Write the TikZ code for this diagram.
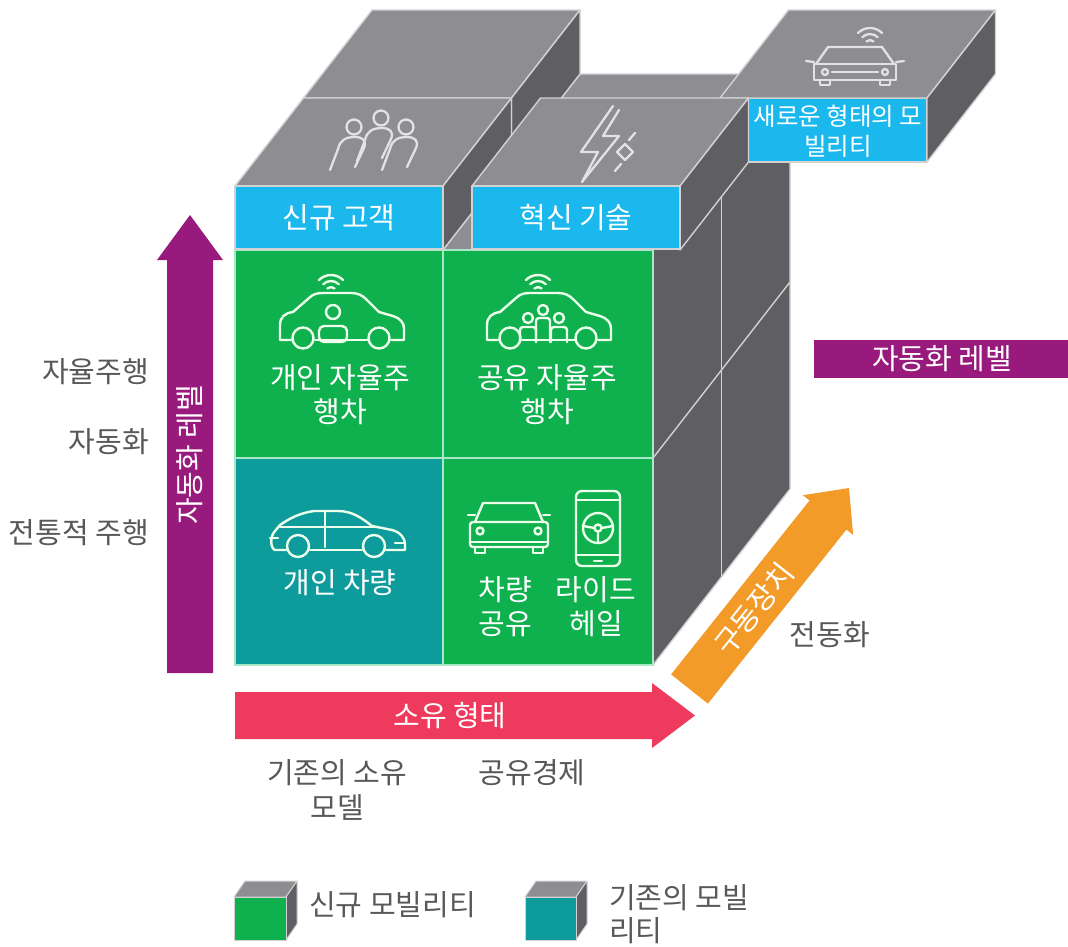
\documentclass[tikz,border=0pt]{standalone}
\usepackage{fontspec}
\setmainfont{Noto Sans CJK KR}
\usetikzlibrary{calc}
\definecolor{topg}{HTML}{8E8E92}
\definecolor{sideg}{HTML}{5F5F63}
\definecolor{edgeg}{HTML}{D2D2D4}
\definecolor{cblue}{HTML}{1BB8EE}
\definecolor{cgreen}{HTML}{0FB04E}
\definecolor{cteal}{HTML}{0E9B9C}
\definecolor{mint}{HTML}{A9E8C6}
\definecolor{cpurple}{HTML}{981A7D}
\definecolor{cred}{HTML}{EE3A5C}
\definecolor{corange}{HTML}{F39B28}
\definecolor{txtg}{HTML}{58585A}
\definecolor{icong}{HTML}{E2E2E4}
\tikzset{
  face/.style={line width=1.4pt, draw=edgeg, line join=round},
  topface/.style={face, fill=topg},
  sideface/.style={face, fill=sideg},
  blueface/.style={face, fill=cblue},
  edgeline/.style={draw=edgeg, line width=1.4pt},
  cellline/.style={draw=mint, line width=1.5pt},
  ico/.style={draw=white!92!green, line width=2.4pt, line cap=round, line join=round},
  gico/.style={draw=icong, line width=2.3pt, line cap=round, line join=round},
  wtxt/.style={text=white, font=\fontsize{29}{34}\selectfont, align=center, inner sep=0pt},
  gtxt/.style={text=txtg, font=\fontsize{29}{35}\selectfont, align=center, inner sep=0pt}
}
\begin{document}
\begin{tikzpicture}[x=1pt,y=-1pt]
\useasboundingbox (0,0) rectangle (1068,946);
\fill[white] (0,0) rectangle (1068,946);

% ---------- main cube ----------
\path[topface] (235,250) -- (653,250) -- (790,74) -- (372,74) -- cycle;
\path[sideface] (653,250) -- (790,74) -- (790,489) -- (653,665) -- cycle;
\draw[edgeline] (721.5,162) -- (721.5,577);
\draw[edgeline] (653,458) -- (790,282);
\draw[edgeline] (443,250) -- (580,74);
\draw[edgeline] (303.5,162) -- (721.5,162);
\fill[cgreen] (235,250) rectangle (653,665);
\fill[cteal] (235,458) rectangle (443,665);
\draw[cellline] (235,250) rectangle (653,665);
\draw[cellline] (235,458) -- (653,458);
\draw[cellline] (443,250) -- (443,665);

% ---------- block B (back left) ----------
\path[sideface] (303.5,98) rectangle (511.5,162);
\path[topface] (303.5,98) -- (511.5,98) -- (580,10) -- (372,10) -- cycle;
\path[sideface] (511.5,98) -- (580,10) -- (580,74) -- (511.5,162) -- cycle;
% ---------- block E (back right) ----------
\path[sideface] (720,98) rectangle (748.5,162);
\path[blueface] (748.5,98) rectangle (927,162);
\path[topface] (720,98) -- (927,98) -- (995.5,10) -- (788.5,10) -- cycle;
\path[sideface] (927,98) -- (995.5,10) -- (995.5,74) -- (927,162) -- cycle;
% ---------- block A ----------
\path[topface] (235,186) -- (443,186) -- (511.5,98) -- (303.5,98) -- cycle;
\path[sideface] (443,186) -- (511.5,98) -- (511.5,162) -- (443,250) -- cycle;
\path[blueface] (235,186) rectangle (443,249);
% ---------- block C ----------
\path[topface] (472,186) -- (680,186) -- (748.5,98) -- (540.5,98) -- cycle;
\path[sideface] (680,186) -- (748.5,98) -- (748.5,162) -- (680,250) -- cycle;
\path[blueface] (472,186) rectangle (680,249);

% ---------- icons on top faces ----------
% people
\foreach \hx/\hy in {354/127, 381/118, 406/127}{
  \draw[gico] (\hx,\hy) circle[radius=7.5];
  \draw[gico] (\hx-24,\hy+43) -- (\hx-16,\hy+22) .. controls (\hx-14,\hy+13) and (\hx-8,\hy+10) .. (\hx+1,\hy+10)
     .. controls (\hx+9,\hy+10) and (\hx+13,\hy+14) .. (\hx+10,\hy+21) -- (\hx+1,\hy+40);
}
% lightning
\draw[gico] (613,106) -- (581,152) -- (598,152) -- (582,182) -- (619,136) -- (603,136) -- (619,110);
\draw[gico] (625,144) -- (633,152) -- (625,160) -- (617,152) -- cycle;
\draw[gico] (629,140) -- (635,133) (621,164) -- (615,171);
% car with wifi on E
\begin{scope}[shift={(856,60)}]
  \draw[gico] (-40,4) -- (-28,-13) -- (26,-13) -- (38,4);
  \draw[gico] (-42,4) -- (40,4) -- (40,20) -- (-42,20) -- cycle;
  \draw[gico] (-36,20) -- (-36,25) -- (-26,25) -- (-26,20) (24,20) -- (24,25) -- (34,25) -- (34,20);
  \draw[gico] (-50,1) -- (-42,2) (40,2) -- (48,1);
  \draw[gico] (-31,12) circle[radius=3] (29,12) circle[radius=3];
  \draw[gico] (-24,12) -- (22,12);
\end{scope}
\foreach \r in {5,11,17}{
  \draw[gico] (870-0.707*\r,45-0.707*\r) arc[start angle=225, end angle=315, radius=\r];
}

% ---------- cell icons ----------
% car 1 and car 2 (side view, autonomous)
\foreach \cx in {342,549}{
\begin{scope}[shift={(\cx,320)}]
  \draw[ico] (-50,20) -- (-62,20) -- (-62,5) .. controls (-62,-3) and (-57,-7) .. (-49,-8) -- (-33,-22)
     .. controls (-29,-26) and (-25,-27) .. (-19,-27) -- (9,-27) .. controls (16,-27) and (20,-25) .. (25,-20)
     -- (37,-8) -- (51,-4) .. controls (58,-2) and (62,3) .. (62,8) -- (62,20) -- (49,20);
  \draw[ico] (-27,20) -- (26,20);
  \draw[ico] (-39,18) circle[radius=10.5] (37,18) circle[radius=10.5];
\end{scope}
\foreach \r in {5,11,17}{
  \draw[ico] (\cx-11-0.707*\r,292-0.707*\r) arc[start angle=225, end angle=315, radius=\r];
}
}
% person in car 1
\draw[ico] (333,312) circle[radius=7];
\draw[ico, rounded corners=5] (319,342) -- (319,326) -- (347,326) -- (347,342) -- cycle;
% group in car 2
\draw[ico] (528,318) circle[radius=5] (543,310) circle[radius=5] (559,318) circle[radius=5];
\draw[ico, rounded corners=3] (520,342) -- (520,327) -- (536,327) -- (536,342);
\draw[ico, rounded corners=3] (536,342) -- (536,318) -- (550,318) -- (550,342);
\draw[ico, rounded corners=3] (551,342) -- (551,327) -- (567,327) -- (567,342);
% sedan (cell 3)
\begin{scope}[shift={(338,530)}]
  \draw[ico] (-52,20) -- (-63,20) .. controls (-68,18) and (-68,6) .. (-63,1) -- (-58,-5)
     .. controls (-48,-12) and (-38,-17) .. (-24,-19) -- (0,-19) .. controls (14,-19) and (24,-12) .. (34,-4)
     -- (54,0) .. controls (62,2) and (67,8) .. (67,14) -- (67,20) -- (48,20);
  \draw[ico] (-28,20) -- (24,20);
  \draw[ico] (-58,-3) -- (38,-3);
  \draw[ico] (-13,-19) -- (-13,17);
  \draw[ico] (-68,8) -- (-60,8) (57,13) -- (67,13);
  \draw[ico] (-40,16) circle[radius=11] (36,16) circle[radius=11];
\end{scope}
% front car (cell 4)
\begin{scope}[shift={(509,528)}]
  \draw[ico] (-34,-6) -- (-26,-25) -- (26,-25) -- (34,-6);
  \draw[ico, rounded corners=3] (-39,-6) -- (39,-6) -- (39,19) -- (-39,19) -- cycle;
  \draw[ico] (-39,14) -- (39,14);
  \draw[ico] (-34,19) -- (-34,25) -- (-24,25) -- (-24,19) (24,19) -- (24,25) -- (34,25) -- (34,19);
  \draw[ico] (-41,-13) -- (-34,-13) (34,-13) -- (41,-13);
  \draw[ico] (-29,3) circle[radius=3.5] (29,3) circle[radius=3.5];
\end{scope}
% phone (cell 4)
\begin{scope}[shift={(598,528)}]
  \draw[ico, rounded corners=6] (-22,-37) rectangle (22,38);
  \draw[ico] (-22,-28) -- (22,-28) (-22,27) -- (22,27) (-4,33) -- (4,33);
  \draw[ico] (0,0) circle[radius=15] (0,0) circle[radius=3.5];
  \draw[ico] (-15,-2) -- (-3.5,0) (15,-2) -- (3.5,0) (0,3.5) -- (0,15);
\end{scope}

% ---------- texts on blocks ----------
\node[wtxt] (tA) at (339,218) {신규 고객};
\node[wtxt] (tC) at (576,218) {혁신 기술};
\node[wtxt, font=\fontsize{24.5}{30}\selectfont] (tE) at (838,131) {새로운 형태의 모\\빌리티};
\node[wtxt] (c1) at (340,395) {개인 자율주\\행차};
\node[wtxt] (c2) at (547,395) {공유 자율주\\행차};
\node[wtxt] (c3) at (340,583) {개인 차량};
\node[wtxt] (c4a) at (505,607) {차량\\공유};
\node[wtxt] (c4b) at (596,607) {라이드\\헤일};

% ---------- axes ----------
\fill[cpurple] (167,673) -- (167,260) -- (157,260) -- (190,215) -- (223,260) -- (213,260) -- (213,673) -- cycle;
\node[wtxt, rotate=90] (vl) at (190,455) {자동화 레벨};
\fill[cred] (235,692) -- (652,692) -- (652,683) -- (695,715.5) -- (652,748) -- (652,739) -- (235,739) -- cycle;
\node[wtxt] (hl) at (450,716) {소유 형태};
\fill[corange] (671.1,674.4) -- (809.6,500.4) -- (802.9,495.2) -- (849,488) -- (853.1,534.8) -- (846.4,529.6) -- (707.9,703.6) -- cycle;
\node[wtxt, rotate=51.7] (dl) at (754,609) {구동장치};
\node[gtxt] (el) at (830,635) {전동화};
\fill[cpurple] (814,340) rectangle (1068,378);
\node[wtxt] (pl) at (942,359) {자동화 레벨};

\node[gtxt, anchor=east] (l1) at (149,372) {자율주행};
\node[gtxt, anchor=east] (l2) at (149,442) {자동화};
\node[gtxt, anchor=east] (l3) at (149,533) {전통적 주행};
\node[gtxt] (b1) at (337,790) {기존의 소유\\모델};
\node[gtxt] (b2) at (532,773) {공유경제};

% ---------- legend ----------
\path[topface, line width=1pt] (234,897) -- (286,897) -- (297,881) -- (245,881) -- cycle;
\path[sideface, line width=1pt] (286,897) -- (297,881) -- (297,924) -- (286,940) -- cycle;
\path[face, line width=1pt, fill=cgreen] (234,897) rectangle (286,940);
\path[topface, line width=1pt] (525,897) -- (576,897) -- (587,881) -- (536,881) -- cycle;
\path[sideface, line width=1pt] (576,897) -- (587,881) -- (587,924) -- (576,940) -- cycle;
\path[face, line width=1pt, fill=cteal] (525,897) rectangle (576,940);
\node[gtxt, anchor=west] (lg1) at (309,905) {신규 모빌리티};
\node[gtxt, anchor=west, align=left, font=\fontsize{29}{33}\selectfont] (lg2) at (609,914) {기존의 모빌\\리티};
\end{tikzpicture}
\end{document}
